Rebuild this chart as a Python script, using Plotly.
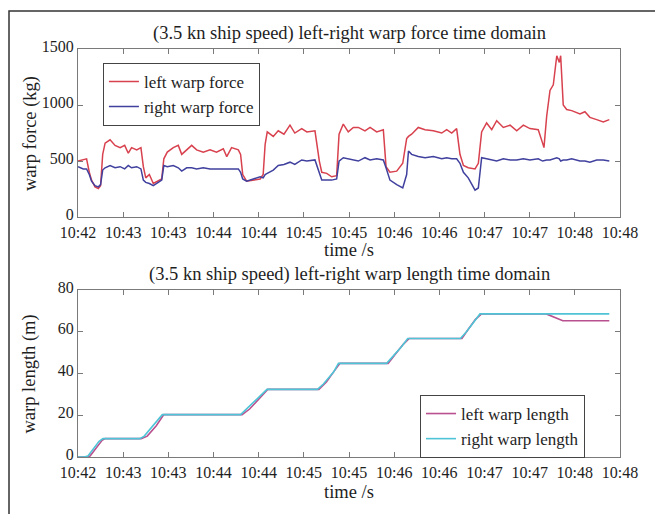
import plotly.graph_objects as go

# ---- data ----
tick_seconds = [0, 30, 60, 90, 120, 150, 180, 210, 240, 270, 300, 330, 360]
tick_labels = ["10:42", "10:43", "10:43", "10:44", "10:44", "10:45", "10:45",
               "10:46", "10:46", "10:47", "10:47", "10:48", "10:48"]

force_time = [0, 3.5, 5.7, 7.5, 9, 11.3, 13.5, 15, 16.4, 18, 21.3, 24.6, 28, 31, 33.4, 35.6, 39, 41.8,
              43.4, 45, 47.4, 50, 53.3, 55.6, 57, 59.3, 63.3, 66.6, 68.9, 72.2, 75.5, 78.8, 83.2, 87.7,
              92, 96.5, 98.8, 102, 106.5, 108, 109.4, 112, 116.4, 121, 123, 124.3, 125.7, 129.7, 133,
              136.8, 140.8, 144, 148.6, 152, 157.4, 160.3, 161.9, 165.2, 168.5, 171.8, 173.4, 176.2,
              179.5, 182.9, 186.2, 190.6, 194, 198.4, 202.8, 204.6, 207.2, 211.7, 215.7, 218.3, 219.5,
              221.6, 226, 230.5, 236, 241.6, 244.9, 248.2, 251.5, 253.7, 256, 259.2, 263.7, 265.9,
              268.1, 271.4, 274.8, 278.1, 282.5, 287, 291.4, 295.8, 300.2, 305.7, 308.6, 309.5, 311.3,
              313.5, 315.7, 318, 319.7, 320.6, 322.3, 324.6, 327.9, 333.4, 336.7, 340, 344.5, 348.9, 352.9]

left_force = [500, 510, 520, 400, 330, 270, 255, 280, 560, 660, 690, 640, 620, 640, 570, 620, 600, 620,
              450, 350, 380, 300, 320, 340, 520, 580, 620, 640, 560, 600, 640, 600, 580, 600,
              580, 610, 540, 620, 600, 560, 380, 320, 330, 340, 380, 650, 760, 720, 770,
              740, 820, 750, 790, 760, 770, 500, 400, 390, 360, 370, 740, 830,
              760, 800, 800, 770, 800, 760, 780, 450, 400, 410, 480, 700, 720,
              740, 800, 780, 770, 750, 780, 750, 790, 560, 460, 440, 430, 480,
              760, 840, 780, 860, 800, 820, 770, 820, 790, 780, 660, 620, 900,
              1130, 1180, 1440, 1380, 1440, 1000, 960, 950, 920, 940, 890, 870, 850, 870]

right_force = [450, 430, 430, 380, 320, 280, 270, 290, 420, 440, 460, 440, 450, 430, 460, 440, 450, 430,
               330, 310, 300, 280, 310, 330, 460, 450, 460, 440, 410, 440, 440, 430, 440, 430,
               430, 430, 430, 430, 430, 400, 340, 320, 340, 360, 350, 380, 390, 420, 460,
               470, 490, 470, 510, 500, 510, 380, 330, 330, 330, 340, 500, 530,
               520, 510, 500, 530, 510, 520, 510, 440, 330, 290, 260, 380, 590,
               560, 540, 530, 540, 520, 530, 520, 520, 480, 400, 350, 240, 260,
               530, 520, 510, 500, 520, 510, 510, 520, 510, 520, 500, 505, 510,
               510, 520, 530, 520, 500, 510, 510, 520, 500, 500, 490, 510, 510, 500]

right_len_time = [0, 4, 6.6, 10, 14, 16.6, 41, 44, 50, 56, 108, 112, 118, 125.5, 159, 163, 170, 173,
                  205, 209, 215, 219, 254, 258, 263, 267, 311, 352.9]
right_length = [0, 0, 0.5, 4, 7.5, 8.8, 8.8, 10, 15, 20.3, 20.3, 23, 27, 32.4, 32.4, 35, 41, 44.9,
                44.9, 48, 53, 56.8, 56.8, 60, 65, 68.6, 68.6, 68.6]

left_len_time = [0, 6, 8, 12, 16, 18, 42, 46, 52, 57, 109, 114, 120, 126, 160, 165, 171, 174,
                 206, 210, 216, 220, 255, 259, 264, 268, 311, 318, 322, 352.9]
left_length = [0, 0, 0.5, 4.5, 8, 8.8, 8.8, 10, 15, 20.3, 20.3, 23, 27.5, 32.4, 32.4, 36, 42, 44.9,
               44.9, 48.5, 54, 56.8, 56.8, 61, 66, 68.6, 68.6, 66.5, 65.3, 65.3]

# ---- figure ----
FONT = "Liberation Serif, Times New Roman, serif"
AX = "#7a7a7a"
TXT = "#1e1e1e"

fig = go.Figure()
fig.add_trace(go.Scatter(x=force_time, y=left_force, mode="lines", name="left warp force",
                         line=dict(color="#d8414e", width=1.5), xaxis="x", yaxis="y", legend="legend"))
fig.add_trace(go.Scatter(x=force_time, y=right_force, mode="lines", name="right warp force",
                         line=dict(color="#40409e", width=1.5), xaxis="x", yaxis="y", legend="legend"))
fig.add_trace(go.Scatter(x=left_len_time, y=left_length, mode="lines", name="left warp length",
                         line=dict(color="#b9508f", width=1.6), xaxis="x2", yaxis="y2", legend="legend2"))
fig.add_trace(go.Scatter(x=right_len_time, y=right_length, mode="lines", name="right warp length",
                         line=dict(color="#4fc4d6", width=1.6), xaxis="x2", yaxis="y2", legend="legend2"))

common_x = dict(range=[0, 360], tickvals=tick_seconds, ticktext=tick_labels, ticks="inside",
                ticklen=5, tickcolor=AX, showline=True, linecolor=AX, linewidth=1, mirror="allticks",
                showgrid=False, zeroline=False, ticklabelstandoff=1,
                tickfont=dict(family=FONT, size=16, color=TXT))
common_y = dict(ticks="inside", ticklen=5, tickcolor=AX, showline=True, linecolor=AX, linewidth=1,
                mirror="allticks", showgrid=False, zeroline=False, ticklabelshift=-3,
                tickfont=dict(family=FONT, size=16, color=TXT))

fig.update_layout(
    width=655, height=514,
    margin=dict(l=78, r=35, t=49, b=57),
    plot_bgcolor="white", paper_bgcolor="white",
    font=dict(family=FONT, size=16, color=TXT),
    xaxis=dict(domain=[0, 1], anchor="y", **common_x),
    yaxis=dict(domain=[0.588, 1], anchor="x", range=[0, 1500], tickvals=[0, 500, 1000, 1500], **common_y),
    xaxis2=dict(domain=[0, 1], anchor="y2", **common_x),
    yaxis2=dict(domain=[0, 0.409], anchor="x2", range=[0, 80], tickvals=[0, 20, 40, 60, 80], **common_y),
    legend=dict(x=0.046, y=0.966, xanchor="left", yanchor="top", bordercolor="#444", borderwidth=1,
                bgcolor="white", font=dict(family=FONT, size=17, color=TXT), tracegroupgap=0),
    legend2=dict(x=0.631, y=0.152, xanchor="left", yanchor="top", bordercolor="#444", borderwidth=1,
                 bgcolor="white", font=dict(family=FONT, size=17, color=TXT), tracegroupgap=0),
    showlegend=True,
)

annos = [
    dict(text="(3.5 kn ship speed) left-right warp force time domain", x=0.5, y=1.039),
    dict(text="(3.5 kn ship speed) left-right warp length time domain", x=0.5, y=0.4485),
    dict(text="time /s", x=0.5, y=0.508),
    dict(text="time /s", x=0.5, y=-0.086),
    dict(text="warp force (kg)", x=-0.0886, y=0.794, textangle=-90),
    dict(text="warp length (m)", x=-0.0886, y=0.2045, textangle=-90),
]
for a in annos:
    fig.add_annotation(xref="paper", yref="paper", showarrow=False, xanchor="center", yanchor="middle",
                       font=dict(family=FONT, size=18.5, color=TXT), **a)

# outer frame (only left & top edges visible in the picture)
fig.add_shape(type="rect", xref="paper", yref="paper", x0=-0.1273, y0=-0.2, x1=1.2, y1=1.0931,
              line=dict(color="#333", width=1.5), fillcolor="rgba(0,0,0,0)", layer="below")

fig.write_html("out.html")
